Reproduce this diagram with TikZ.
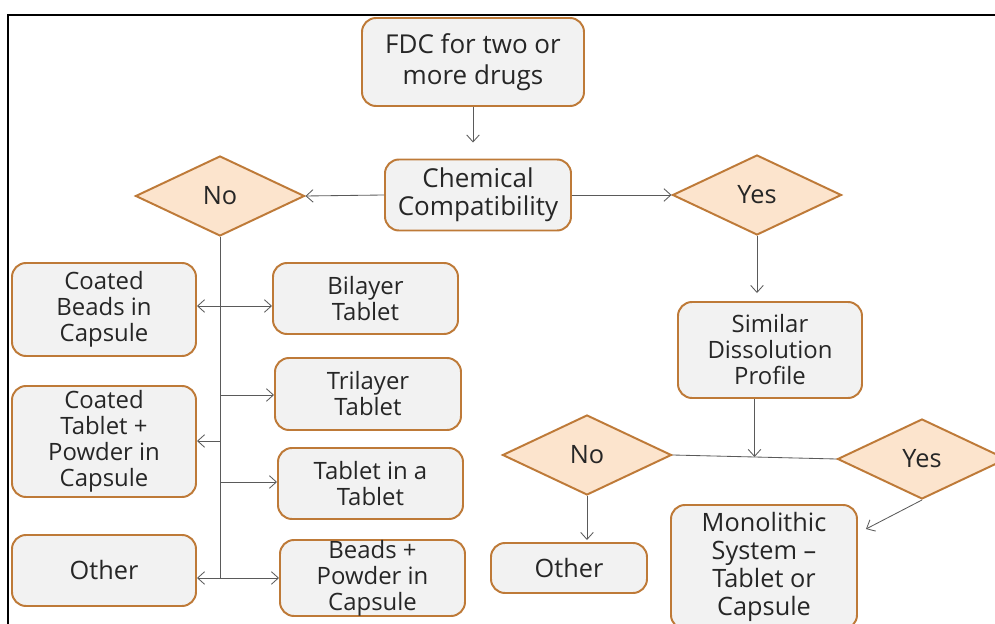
\documentclass[tikz,border=0pt]{standalone}
\usepackage{fontspec}
\setmainfont{Open Sans}
\usepackage{xcolor}
\usepackage{tikz}
\usetikzlibrary{arrows.meta, positioning, shapes.geometric, calc}
\definecolor{FDCedge}{HTML}{BE7A38}
\definecolor{FDCbox}{HTML}{F2F2F2}
\definecolor{FDCpeach}{HTML}{FCE4CD}
\definecolor{FDCline}{HTML}{5A5A5A}
\definecolor{FDCtext}{HTML}{262626}

\begin{document}
\begin{tikzpicture}[
        box/.style={draw=FDCedge, line width=1.4pt, fill=FDCbox, rounded corners=0.35cm,
            align=center, inner sep=0pt, text=FDCtext, font=\fontsize{17}{18.5}\selectfont},
        choice/.style={diamond, draw=FDCedge, line width=1.4pt, fill=FDCpeach, inner sep=0pt,
            minimum width=4.225cm, minimum height=2cm, text=FDCtext, font=\fontsize{18}{18.5}\selectfont},
        wire/.style={draw=FDCline, line width=0.6pt},
        link/.style={wire, -{Straight Barb[length=5pt, width=9pt]}}
    ]
                \clip (0,0) rectangle (24.875,-15.6);
                \draw[line width=1.4pt] (0.2,-15.8) -- (0.2,-0.375) -- (25,-0.375);

                \node[box, minimum width=5.55cm, minimum height=2.2cm, font=\fontsize{18.5}{22}\selectfont]
                    (fdc) at (11.825,-1.55) {FDC for two or\\more drugs};
                \node[box, minimum width=4.65cm, minimum height=1.775cm, font=\fontsize{18.5}{20}\selectfont]
                    (chem) at (11.95,-4.875) {Chemical\\Compatibility};
                \node[choice] (no1) at (5.5,-4.9) {No};
                \node[choice] (yes1) at (18.925,-4.875) {Yes};

                \node[box, minimum width=4.6cm, minimum height=2.325cm] (cbc) at (2.6,-7.7375) {Coated\\Beads in\\Capsule};
                \node[box, minimum width=4.6cm, minimum height=2.775cm] (ctp) at (2.6,-11.0375) {Coated\\Tablet +\\Powder in\\Capsule};
                \node[box, minimum width=4.6cm, minimum height=1.775cm, font=\fontsize{18}{18.5}\selectfont]
                    (other1) at (2.6,-14.2625) {Other};
                \node[box, minimum width=4.625cm, minimum height=1.775cm] (bil) at (9.1375,-7.4625) {Bilayer\\Tablet};
                \node[box, minimum width=4.65cm, minimum height=1.8cm] (tri) at (9.2,-9.85) {Trilayer\\Tablet};
                \node[box, minimum width=4.625cm, minimum height=1.775cm] (tit) at (9.2625,-12.0875) {Tablet in a\\Tablet};
                \node[box, minimum width=4.625cm, minimum height=1.9cm] (bpc) at (9.3125,-14.45) {Beads +\\Powder in\\Capsule};

                \node[box, minimum width=4.6cm, minimum height=2.4cm] (sim) at (19.25,-8.75) {Similar\\Dissolution\\Profile};
                \node[choice] (no2) at (14.675,-11.375) {No};
                \node[choice] (yes2) at (23.05,-11.475) {Yes};
                \node[box, minimum width=3.9cm, minimum height=1.25cm, font=\fontsize{18}{18.5}\selectfont]
                    (other2) at (14.225,-14.2) {Other};
                \node[box, minimum width=4.65cm, minimum height=3.1cm, font=\fontsize{18}{20}\selectfont]
                    (mono) at (19.1,-14.175) {Monolithic\\System –\\Tablet or\\Capsule};

                \draw[link, shorten >=0.4cm] (fdc.south) -- (fdc.south |- chem.north);
                \draw[link] (chem.west) -- (no1.east);
                \draw[link] (chem.east) -- (yes1.west);

                \coordinate (b1) at (5.5,-7.65);
                \coordinate (b2) at (5.5,-9.875);
                \coordinate (b3) at (5.5,-11.025);
                \coordinate (b4) at (5.5,-12.05);
                \coordinate (b5) at (5.5,-14.45);
                \draw[wire] (no1.south) -- (b5);
                \draw[link] (b1) -- (b1 -| cbc.east);
                \draw[link] (b1) -- (b1 -| bil.west);
                \draw[link] (b2) -- (b2 -| tri.west);
                \draw[link] (b3) -- (b3 -| ctp.east);
                \draw[link] (b4) -- (b4 -| tit.west);
                \draw[link] (b5) -- (b5 -| other1.east);
                \draw[link] (b5) -- (b5 -| bpc.west);

                \draw[link, shorten >=0.2cm] (yes1.south) -- (yes1.south |- sim.north);
                \coordinate (junc) at ($(no2.east)!0.5!(yes2.west)$);
                \draw[wire] (no2.east) -- (yes2.west);
                \draw[link] (junc |- sim.south) -- (junc);
                \draw[link, shorten >=0.05cm] (no2.south) -- (no2.south |- other2.north);
                \draw[link] (yes2.south) -- ([shift={(0.2,-0.625)}]mono.north east);
            \end{tikzpicture}
\end{document}
